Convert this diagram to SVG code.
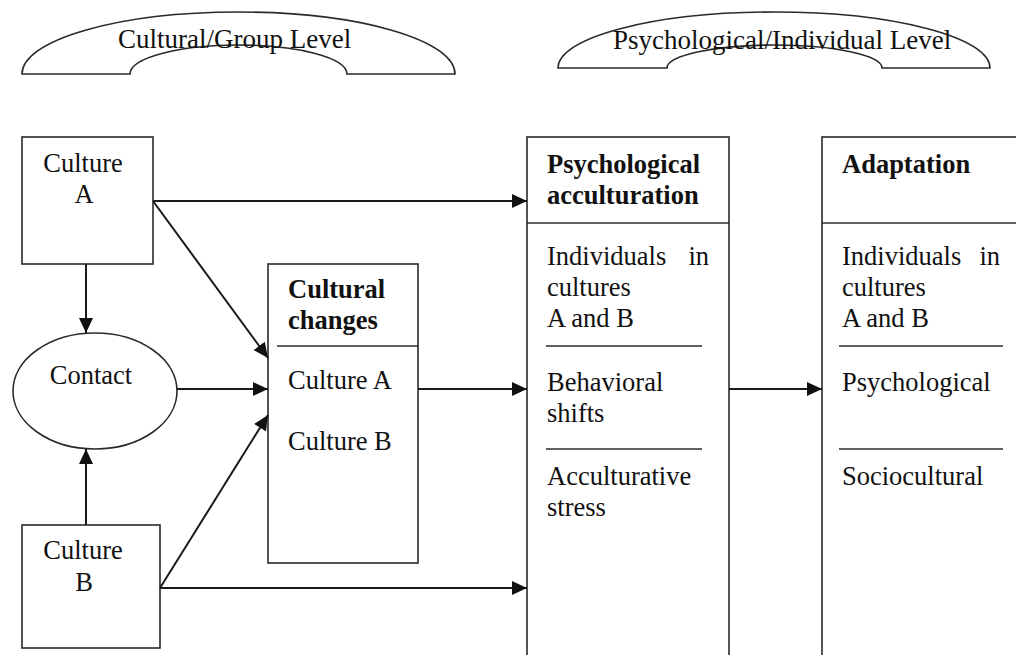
<svg xmlns="http://www.w3.org/2000/svg" width="1016" height="655" viewBox="0 0 1016 655">
<style>
text{font-family:"Liberation Serif","Times New Roman",serif;font-size:26.5px;fill:#111}
.b{font-weight:bold}
.h{font-size:27px}
.shape{fill:#fff;stroke:#2a2a2a;stroke-width:1.6}
.div{stroke:#2a2a2a;stroke-width:1.6}
.conn{fill:none;stroke:#1a1a1a;stroke-width:2;marker-end:url(#ah)}
</style>
<defs>
<marker id="ah" viewBox="0 0 15 14" refX="15" refY="7" markerWidth="15" markerHeight="14" markerUnits="userSpaceOnUse" orient="auto">
<path d="M0 0 L15 7 L0 14 Z" fill="#111"/>
</marker>
</defs>
<rect width="1016" height="655" fill="#fff"/>

<g id="level-cultural">
<path class="shape" d="M22 74 A216.5 62 0 0 1 455 74 L347 74 A108.5 29 0 0 0 130 74 Z"/>
<text class="h" x="118" y="48">Cultural/Group Level</text>
</g>
<g id="level-psych">
<path class="shape" d="M558 68 A216 56 0 0 1 990 68 L882 68 A107.5 23 0 0 0 667 68 Z"/>
<text class="h" x="613" y="49">Psychological/Individual Level</text>
</g>

<g id="culture-a">
<rect class="shape" x="22" y="137" width="131" height="127"/>
<text x="83" y="172" text-anchor="middle">Culture</text>
<text x="84" y="203" text-anchor="middle">A</text>
</g>

<g id="contact">
<ellipse class="shape" cx="95" cy="391" rx="82" ry="58"/>
<text x="91" y="384" text-anchor="middle">Contact</text>
</g>

<g id="culture-b">
<rect class="shape" x="22" y="525" width="138" height="123"/>
<text x="83" y="559" text-anchor="middle">Culture</text>
<text x="84" y="591" text-anchor="middle">B</text>
</g>

<g id="cultural-changes">
<rect class="shape" x="268" y="264" width="150" height="299"/>
<line class="div" x1="277" y1="346" x2="418" y2="346"/>
<text class="b" x="288" y="298">Cultural</text>
<text class="b" x="288" y="329">changes</text>
<text x="288" y="389">Culture A</text>
<text x="288" y="450">Culture B</text>
</g>

<g id="psychological-acculturation">
<rect class="shape" x="527" y="137" width="202" height="560"/>
<line class="div" x1="527" y1="223" x2="729" y2="223"/>
<text class="b" x="547" y="173">Psychological</text>
<text class="b" x="547" y="204">acculturation</text>
<text x="547" y="265">Individuals</text>
<text x="709" y="265" text-anchor="end">in</text>
<text x="547" y="296">cultures</text>
<text x="547" y="327">A and B</text>
<line class="div" x1="546" y1="346" x2="702" y2="346"/>
<text x="547" y="391">Behavioral</text>
<text x="547" y="422">shifts</text>
<line class="div" x1="546" y1="449" x2="702" y2="449"/>
<text x="547" y="485">Acculturative</text>
<text x="547" y="516">stress</text>
</g>

<g id="adaptation">
<rect class="shape" x="822" y="137" width="260" height="560"/>
<line class="div" x1="822" y1="223" x2="1016" y2="223"/>
<text class="b" x="842" y="173">Adaptation</text>
<text x="842" y="265">Individuals</text>
<text x="1000" y="265" text-anchor="end">in</text>
<text x="842" y="296">cultures</text>
<text x="842" y="327">A and B</text>
<line class="div" x1="839" y1="346" x2="1003" y2="346"/>
<text x="842" y="391">Psychological</text>
<line class="div" x1="839" y1="449" x2="1003" y2="449"/>
<text x="842" y="485">Sociocultural</text>
</g>

<g id="connectors">
<line class="conn" x1="86" y1="264" x2="86" y2="333"/>
<line class="conn" x1="86" y1="525" x2="86" y2="449"/>
<line class="conn" x1="153" y1="201" x2="527" y2="201"/>
<line class="conn" x1="153" y1="201" x2="268" y2="358"/>
<line class="conn" x1="177" y1="389" x2="268" y2="389"/>
<line class="conn" x1="160" y1="588" x2="268" y2="415"/>
<line class="conn" x1="160" y1="588" x2="527" y2="588"/>
<line class="conn" x1="418" y1="389" x2="527" y2="389"/>
<line class="conn" x1="729" y1="389" x2="822" y2="389"/>
</g>
</svg>
